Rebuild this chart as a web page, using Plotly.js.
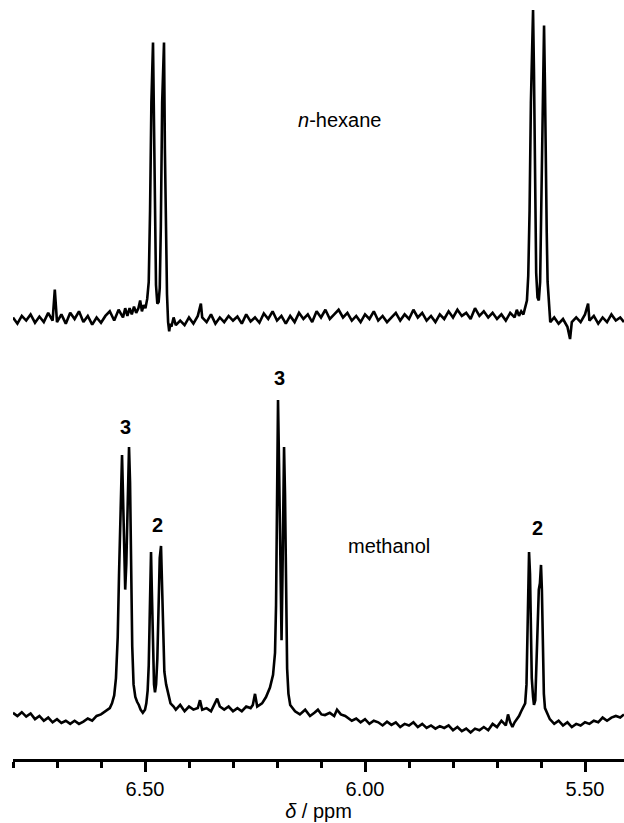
<!DOCTYPE html>
<html><head><meta charset="utf-8">
<script src="https://cdn.plot.ly/plotly-3.0.1.min.js"></script>
<style>html,body{margin:0;padding:0;background:#fff;}#chart{width:624px;height:823px;}</style>
</head><body><div id="chart"></div>
<script>
// n-hexane spectrum (upper trace): chemical shift (ppm) and relative intensity
const hexanePpm = [
6.800,6.790,6.780,6.770,6.760,6.750,6.740,6.730,6.720,6.710,6.705,6.700,6.690,6.680,6.670,6.660,6.650,6.640,6.630,6.620,
6.610,6.600,6.590,6.580,6.570,6.560,6.550,6.545,6.540,6.535,6.530,6.525,6.520,6.515,6.511,6.507,6.503,6.499,6.495,
6.4915,6.4885,6.4855,6.4818,6.4795,6.4775,6.4750,6.4720,6.4690,6.4665,6.4640,6.4610,6.4585,6.4568,6.4548,6.4525,6.4500,6.4475,6.4450,6.4425,
6.440,6.435,6.430,6.420,6.410,6.400,6.390,6.380,6.373,6.370,6.360,6.350,6.340,6.330,6.320,6.310,6.300,6.290,6.280,6.270,
6.260,6.250,6.240,6.230,6.220,6.210,6.200,6.190,6.180,6.170,6.160,6.150,6.140,6.130,6.120,6.110,6.100,6.090,6.080,6.070,
6.060,6.050,6.040,6.030,6.020,6.010,6.000,5.990,5.980,5.970,5.960,5.950,5.940,5.930,5.920,5.910,5.900,5.890,5.880,5.870,
5.860,5.850,5.840,5.830,5.820,5.810,5.800,5.790,5.780,5.770,5.760,5.750,5.740,5.730,5.720,5.710,5.700,5.690,5.680,5.670,
5.660,5.655,5.650,5.645,5.640,5.636,5.632,5.629,5.626,5.623,5.6205,5.6181,5.6160,5.6135,5.6110,5.6080,5.6050,5.6020,5.5990,5.5960,
5.5931,5.5910,5.5890,5.5870,5.5850,5.5820,5.5790,5.570,5.560,5.550,5.540,5.534,5.530,5.520,5.510,5.500,5.493,5.490,5.480,5.470,
5.460,5.450,5.440,5.430,5.420,5.4114];
const hexaneInt = [
0.5,-1.5,1.0,-0.5,1.5,-1.2,0.8,-1.0,2.0,-0.5,9.5,-1.0,1.5,-1.5,2.0,0.0,2.5,-1.0,1.0,-1.8,
0.5,-1.2,1.0,2.5,-0.5,3.0,0.5,3.5,1.0,3.5,1.5,4.0,2.0,3.5,6.0,2.5,4.5,3.5,6.5,
12,35,70,89.5,65,28,11,5,5.5,10,30,70,88,89.5,55,30,8,-1,-4,-1.5,
-2.5,0.5,-2.0,-0.5,-2.0,0.5,-1.5,1.0,5.0,0.5,-1.0,1.5,-1.5,0.5,-1.0,1.0,-0.5,0.8,-1.5,1.5,
-0.8,0.5,-1.2,1.8,0.0,2.5,-0.5,1.0,-1.5,1.0,-1.0,2.0,0.0,1.5,-1.0,2.5,0.5,3.0,0.0,1.5,
3.0,0.5,2.0,-0.5,1.0,-1.0,1.5,0.0,2.5,-0.5,1.0,-1.0,0.5,2.0,-0.5,1.5,0.0,3.0,0.5,2.0,
-0.5,1.0,-1.0,1.5,0.0,2.5,0.5,3.0,1.0,2.0,0.0,3.5,1.0,2.5,0.5,2.0,0.0,1.5,-0.5,2.0,
0.5,3.0,1.0,2.5,1.5,4.0,6.0,14,35,70,92,100,80,40,15,7,6,12,38,78,
95,75,40,28,12,3,-1,0.5,-1.5,0.0,-2.5,-6.5,-1.0,0.5,-1.0,1.5,5.0,-0.5,1.0,-1.5,
0.5,-1.0,1.5,-0.5,0.5,-1.0];

// methanol spectrum (lower trace)
const methanolPpm = [
6.800,6.790,6.780,6.770,6.760,6.750,6.740,6.730,6.720,6.710,6.700,6.690,6.680,6.670,6.660,6.650,6.640,6.630,6.620,6.610,
6.600,6.590,6.580,6.575,6.570,6.566,6.562,6.559,6.556,6.5522,6.5500,6.5475,6.5450,6.5425,6.5400,6.5380,6.5363,6.5340,6.5315,6.5290,
6.5260,6.5220,6.5180,6.5140,6.5100,6.5050,6.5000,6.4970,6.4940,6.4915,6.4895,6.4878,6.4863,6.4845,6.4820,6.4795,6.4773,6.4748,6.4720,6.4695,
6.4665,6.4636,6.4615,6.4590,6.4560,6.4520,6.4470,6.4420,6.4350,6.4300,6.4200,6.4100,6.4000,6.3900,6.3800,6.3750,6.3700,6.3600,6.3500,6.3450,
6.3360,6.3300,6.3200,6.3100,6.3000,6.2900,6.2800,6.2700,6.2600,6.2550,6.2500,6.2450,6.2400,6.2340,6.2250,6.2160,6.2090,6.2045,6.2022,6.2000,
6.1977,6.1954,6.1920,6.1897,6.1875,6.1855,6.1840,6.1818,6.1795,6.1770,6.1740,6.1700,6.1590,6.1480,6.1360,6.1250,6.1150,6.1070,6.0990,6.0910,
6.0800,6.0700,6.0636,6.0550,6.0450,6.040,6.030,6.020,6.010,6.000,5.990,5.980,5.970,5.960,5.950,5.940,5.930,5.920,5.910,5.900,
5.890,5.880,5.870,5.860,5.850,5.840,5.830,5.820,5.810,5.800,5.790,5.780,5.770,5.760,5.750,5.740,5.730,5.720,5.710,5.700,
5.690,5.680,5.675,5.670,5.665,5.660,5.655,5.650,5.645,5.640,5.636,5.633,5.631,5.629,5.6272,5.625,5.623,5.621,5.618,5.616,
5.613,5.611,5.6075,5.605,5.6025,5.6000,5.598,5.596,5.5935,5.591,5.587,5.580,5.570,5.560,5.550,5.540,5.530,5.520,5.510,5.500,
5.490,5.480,5.470,5.460,5.450,5.440,5.430,5.420,5.4114];
const methanolInt = [
1.0,0.0,1.2,-0.2,0.8,-1.0,0.0,-1.5,-0.5,-2.0,-1.0,-2.2,-1.5,-2.5,-1.5,-2.5,-1.8,-0.8,-1.5,0.0,
0.5,1.5,2.5,4.0,6.5,12,25,45,66,82.6,70,50,40,48,66,80,85.1,74,45,22,
10,6.0,4.5,3.5,2.0,1.0,2.0,4.0,8.0,16,30,45,51.9,40,20,10,7.5,10,18,35,
50,53.8,42,25,14,10,6.5,4.0,3.0,2.0,3.5,1.5,3.0,2.0,2.5,5.0,2.0,2.5,1.5,3.0,
5.5,3.0,2.0,3.0,1.5,2.5,1.5,3.0,2.5,3.5,7.0,3.0,3.5,4.0,6.0,9.0,13,20,35,65,
100,80,45,24,45,75,85.1,70,35,15,7.0,3.5,1.5,0.5,2.0,0.0,1.0,2.0,0.5,0.3,
1.0,0.0,2.0,0.5,0.0,-0.5,-1.5,-0.8,-2.0,-1.0,-2.5,-1.5,-2.0,-3.0,-1.8,-2.8,-2.0,-3.5,-2.5,-3.0,
-2.0,-3.5,-2.5,-3.8,-3.0,-4.0,-3.2,-3.8,-3.0,-4.5,-3.5,-4.8,-4.0,-5.2,-4.0,-4.5,-3.5,-4.5,-2.5,-3.5,
-1.5,-3.0,0.5,-2.0,-3.5,-2.0,-1.0,0.0,1.5,3.0,4.0,10,25,40,51.9,45,25,12,6,3.5,
5,13,25,40,42,47.8,40,20,7,2.5,1.0,-1.0,-2.5,-1.5,-3.0,-2.0,-3.5,-2.5,-3.0,-2.0,
-2.5,-1.5,-2.0,-0.5,-1.5,-0.5,0.0,-0.5,0.5];

const tickValues = [6.5, 6.0, 5.5];
const tickLabels = ['6.50', '6.00', '5.50'];
const solventLabels = ['<i>n</i>-hexane', 'methanol'];
const peakLabels = ['3', '2', '3', '2'];

const FONT = 'Liberation Sans, Arial, Helvetica, sans-serif';
const lineStyle = {color: '#000', width: 2.6};

const traces = [
  {x: hexanePpm, y: hexaneInt, type: 'scatter', mode: 'lines', line: lineStyle, yaxis: 'y2', hoverinfo: 'skip'},
  {x: methanolPpm, y: methanolInt, type: 'scatter', mode: 'lines', line: lineStyle, yaxis: 'y', hoverinfo: 'skip'}
];

const labelFont = {family: FONT, size: 20, color: '#000'};
const peakPos = [[6.5454, 91.5], [6.4727, 60.4], [6.1954, 107], [5.609, 59.5]];
const annotations = [
  {x: 6.057, y: 64.4, xref: 'x', yref: 'y2', text: solventLabels[0], showarrow: false, font: labelFont},
  {x: 5.9454, y: 53.8, xref: 'x', yref: 'y', text: solventLabels[1], showarrow: false, font: labelFont}
].concat(peakLabels.map((t, i) => ({
  x: peakPos[i][0], y: peakPos[i][1], xref: 'x', yref: 'y', text: '<b>' + t + '</b>', showarrow: false, font: labelFont
})));

const layout = {
  width: 624, height: 823,
  margin: {l: 13, r: 0, t: 0, b: 64, pad: 0},
  paper_bgcolor: '#fff', plot_bgcolor: '#fff',
  showlegend: false,
  font: {family: FONT, color: '#000'},
  xaxis: {
    range: [6.80, 5.4114],
    showline: true, linewidth: 3, linecolor: '#000',
    showgrid: false, zeroline: false,
    ticks: 'outside', ticklen: 10, tickwidth: 3, tickcolor: '#000',
    tickmode: 'array', tickvals: tickValues, ticktext: tickLabels,
    tickfont: {family: FONT, size: 20, color: '#000'},
    minor: {tickmode: 'linear', tick0: 6.0, dtick: 0.1, ticks: 'outside', ticklen: 6, tickwidth: 3, tickcolor: '#000', showgrid: false},
    title: {text: '<i>δ</i> / ppm', font: {family: FONT, size: 20, color: '#000'}, standoff: 2}
  },
  yaxis: {visible: false, range: [-13.61, 226.58], fixedrange: true},
  yaxis2: {visible: false, overlaying: 'y', range: [-142.39, 103.24], fixedrange: true},
  annotations: annotations
};

Plotly.newPlot('chart', traces, layout, {displayModeBar: false, staticPlot: true});
</script>
</body></html>
